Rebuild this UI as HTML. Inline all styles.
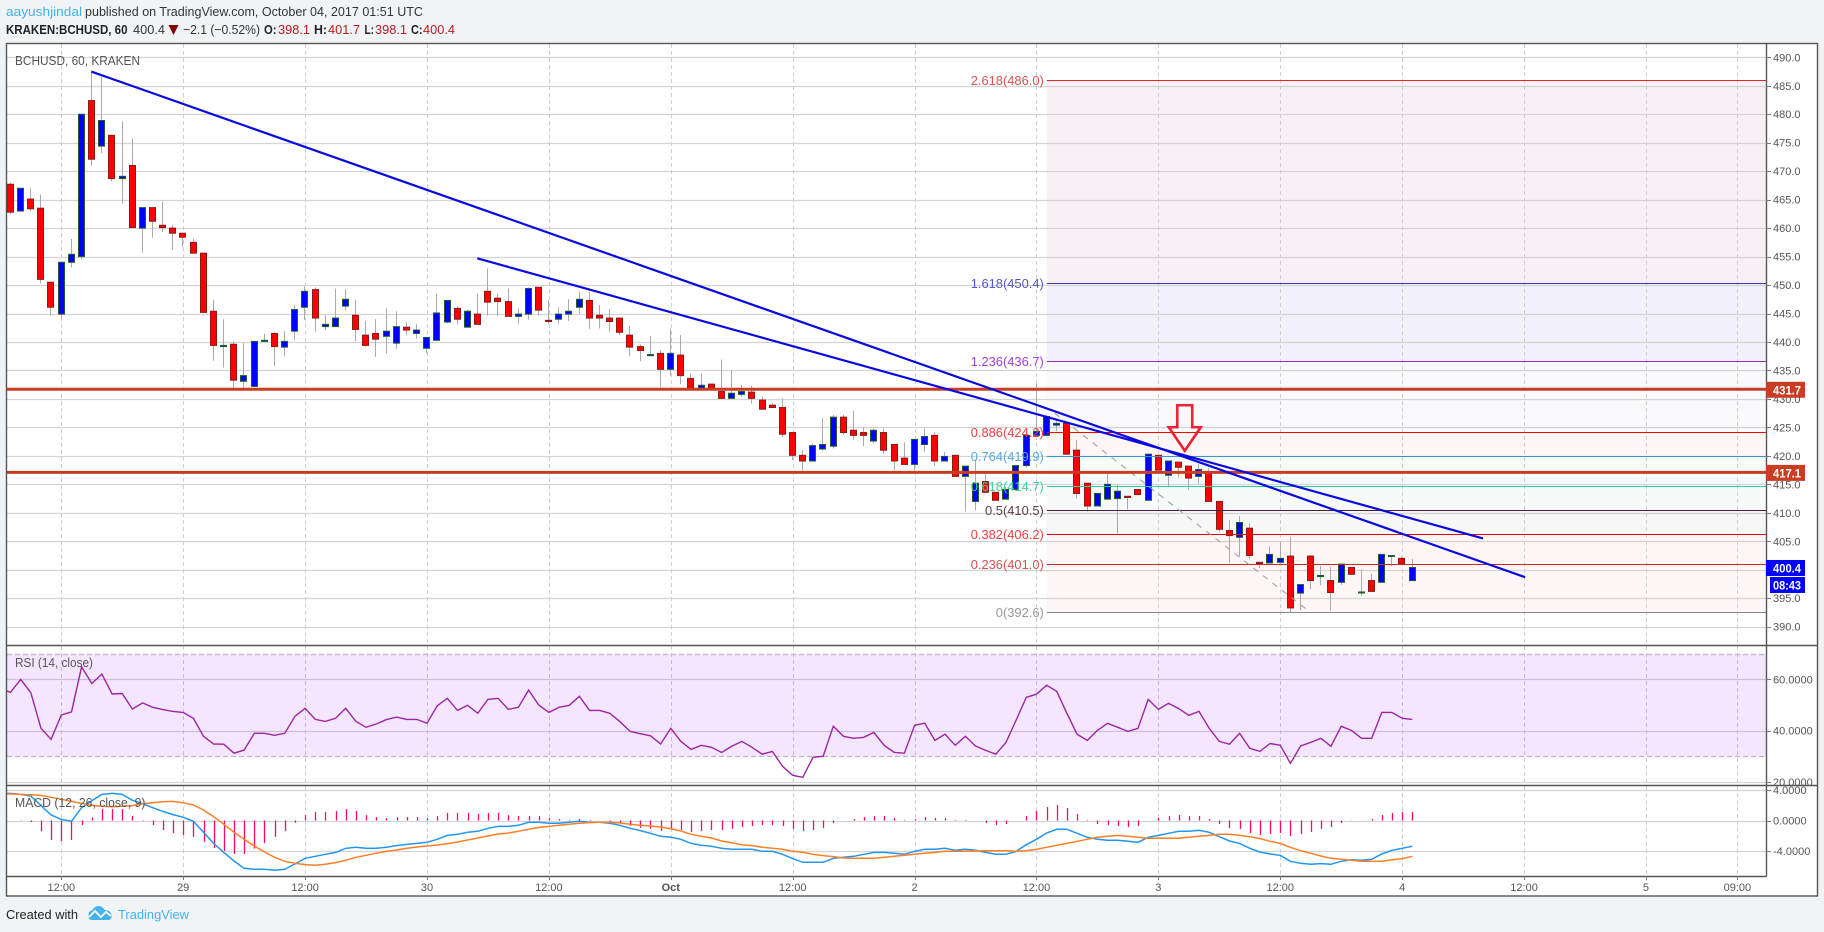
<!DOCTYPE html>
<html lang="en">
<head>
<meta charset="utf-8">
<title>BCHUSD 60 Kraken chart</title>
<style>
html,body{margin:0;padding:0;background:#f1f4f7;width:1824px;height:932px;overflow:hidden}
svg{display:block;font-family:"Liberation Sans",Arial,sans-serif}
</style>
</head>
<body>
<svg id="chart" xmlns="http://www.w3.org/2000/svg" width="1824" height="932" viewBox="0 0 1824 932">
  <defs>
    <clipPath id="mainClip"><rect x="7" y="44" width="1759" height="601"/></clipPath>
    <clipPath id="rsiClip"><rect x="7" y="646" width="1810" height="139"/></clipPath>
    <clipPath id="macdClip"><rect x="7" y="786" width="1759" height="90"/></clipPath>
  </defs>
  <rect x="0" y="0" width="1824" height="932" fill="#f1f4f7"/>

  <g font-size="13">
    <text x="6" y="16" fill="#45b2e8" textLength="76" lengthAdjust="spacingAndGlyphs">aayushjindal</text>
    <text x="85" y="16" fill="#333" textLength="338" lengthAdjust="spacingAndGlyphs">published on TradingView.com, October 04, 2017 01:51 UTC</text>
    <text x="6" y="34" fill="#222" font-weight="bold" textLength="121.5" lengthAdjust="spacingAndGlyphs">KRAKEN:BCHUSD, 60</text>
    <text x="133" y="34" fill="#333" textLength="32" lengthAdjust="spacingAndGlyphs">400.4</text>
    <polygon points="168.5,25 178.5,25 173.5,35" fill="#8b0000"/>
    <text x="183" y="34" fill="#333" textLength="77" lengthAdjust="spacingAndGlyphs">−2.1 (−0.52%)</text>
    <text x="264" y="34" fill="#222" font-weight="bold" textLength="12.5" lengthAdjust="spacingAndGlyphs">O:</text>
    <text x="278" y="34" fill="#b71c1c" textLength="32" lengthAdjust="spacingAndGlyphs">398.1</text>
    <text x="314" y="34" fill="#222" font-weight="bold" textLength="13" lengthAdjust="spacingAndGlyphs">H:</text>
    <text x="328" y="34" fill="#b71c1c" textLength="32" lengthAdjust="spacingAndGlyphs">401.7</text>
    <text x="364.5" y="34" fill="#222" font-weight="bold" textLength="9.5" lengthAdjust="spacingAndGlyphs">L:</text>
    <text x="375" y="34" fill="#b71c1c" textLength="32" lengthAdjust="spacingAndGlyphs">398.1</text>
    <text x="411" y="34" fill="#222" font-weight="bold" textLength="11.5" lengthAdjust="spacingAndGlyphs">C:</text>
    <text x="423" y="34" fill="#b71c1c" textLength="32" lengthAdjust="spacingAndGlyphs">400.4</text>
  </g>

  <rect x="6.5" y="43.5" width="1811" height="852.5" fill="#ffffff"/>

  <g id="fibBands"></g>
  <g id="grid"></g>
  <g id="rsiBand"></g>
  <g id="candles" clip-path="url(#mainClip)"></g>
  <g id="fibLines"></g>
  <g id="drawings" clip-path="url(#mainClip)"></g>
  <g id="rsiSeries" clip-path="url(#rsiClip)"></g>
  <g id="macdSeries" clip-path="url(#macdClip)"></g>

  <text x="15" y="65" font-size="13" fill="#555" textLength="125" lengthAdjust="spacingAndGlyphs">BCHUSD, 60, KRAKEN</text>
  <text x="15" y="667" font-size="13" fill="#555" textLength="78" lengthAdjust="spacingAndGlyphs">RSI (14, close)</text>
  <text x="15" y="807" font-size="13" fill="#555" textLength="130.5" lengthAdjust="spacingAndGlyphs">MACD (12, 26, close, 9)</text>

  <g id="frame" stroke="#555" stroke-width="1.4" fill="none">
    <rect x="6.5" y="43.5" width="1811" height="852.5"/>
    <line x1="1766.5" y1="43.5" x2="1766.5" y2="876.5"/>
    <line x1="6.5" y1="645.5" x2="1817.5" y2="645.5"/>
    <line x1="6.5" y1="785.5" x2="1817.5" y2="785.5"/>
    <line x1="6.5" y1="876.5" x2="1766.5" y2="876.5"/>
  </g>

  <g id="axes" font-size="11" fill="#555"></g>
  <g id="tags" font-size="12" font-weight="bold" fill="#fff"></g>

  <g>
    <text x="6" y="919" font-size="13" fill="#222" textLength="72" lengthAdjust="spacingAndGlyphs">Created with</text>
    <g>
      <path d="M88.5 915q0-4 4-5q2-4 6-4q4 0 6 4q6 0 7 5q1 5-4 5H92q-4 0-3.5-5z" fill="#45b2e8"/>
      <polyline points="89,917 95,911 101,917 106,912 111,916" fill="none" stroke="#ffffff" stroke-width="1.8"/>
    </g>
    <text x="118" y="919" font-size="13" fill="#45b2e8" textLength="71" lengthAdjust="spacingAndGlyphs">TradingView</text>
  </g>
</svg>

<script>
const firstHour = -6;

const opens = [466.5,467.7,463.0,465.1,463.5,450.5,444.9,454.0,455.0,482.4,474.4,476.3,468.7,471.0,460.0,463.6,460.5,460.0,459.1,457.5,
455.6,445.4,439.2,439.6,433.1,432.2,440.1,441.5,439.1,441.9,446.1,449.2,442.7,442.7,446.3,444.7,441.2,441.5,441.0,439.8,
442.6,441.5,438.9,440.3,443.5,445.9,442.6,444.9,448.9,447.7,447.1,444.5,444.9,449.6,443.8,444.0,444.9,446.1,447.3,444.7,
444.2,444.2,441.2,439.2,437.6,438.0,435.2,437.7,433.6,431.9,432.6,431.3,430.1,430.8,431.2,429.8,428.9,428.5,424.1,420.1,
419.1,421.2,421.7,426.8,424.5,424.1,422.6,424.1,422.0,419.6,418.5,422.0,423.6,419.1,420.1,416.4,412.0,415.5,413.6,412.4,
414.1,418.3,423.6,423.6,425.4,425.7,421.0,415.2,411.2,412.4,412.5,412.9,414.1,412.2,420.1,416.6,418.9,418.2,416.4,416.9,
412.0,406.9,405.7,407.3,401.3,401.2,401.3,402.4,395.9,402.4,398.8,398.1,397.8,400.4,396.0,398.1,397.8,402.4,402.0,398.1];

const closes = [467.7,462.8,467.0,463.4,451.0,446.1,454.0,455.4,480.0,472.1,478.9,468.7,469.1,460.1,463.6,461.2,460.1,459.1,458.4,455.6,
445.2,439.4,439.4,433.3,434.1,440.1,440.3,439.2,440.1,445.7,448.9,444.2,443.1,444.2,447.5,442.2,439.4,440.5,441.9,442.7,
442.1,442.1,440.8,445.1,447.3,444.0,445.4,443.1,447.0,447.1,444.5,444.9,449.4,445.6,443.6,444.9,445.4,447.5,444.2,444.2,
443.6,441.7,439.1,438.5,437.8,435.2,438.0,434.1,431.9,432.4,431.9,430.1,431.0,431.3,430.1,428.2,428.5,423.8,420.1,419.1,
421.8,422.0,426.8,424.1,423.6,423.6,424.5,421.0,419.1,418.5,422.9,423.4,419.1,419.9,416.4,418.2,415.2,413.6,412.2,414.1,
418.3,423.6,424.3,426.9,425.7,420.3,413.4,411.2,413.4,415.0,413.8,412.7,413.2,420.3,417.5,419.1,418.0,416.1,417.6,412.0,
407.1,406.0,408.3,402.5,401.1,402.7,402.0,393.3,397.4,398.1,399.0,396.0,401.0,399.2,396.1,396.2,402.7,402.5,401.0,400.4];

const highs = [468.0,468.0,467.0,467.0,465.9,450.5,454.0,458.1,480.0,487.3,486.7,476.3,478.8,475.7,463.6,463.6,464.7,460.5,459.1,458.2,
455.6,447.4,444.0,440.1,439.8,440.2,441.5,441.7,441.9,446.5,449.8,449.6,444.7,449.4,449.3,447.4,443.7,444.0,445.9,445.4,
443.5,443.2,440.9,448.5,447.4,446.3,445.7,448.5,452.9,448.5,449.4,445.9,449.6,449.6,447.4,446.1,447.5,448.9,448.8,446.5,
445.8,444.2,442.8,439.6,441.1,438.5,442.4,441.2,434.5,434.5,432.7,436.9,435.1,432.5,432.3,430.4,429.3,430.1,424.1,421.0,
422.2,426.6,427.2,427.2,427.9,425.0,424.8,424.8,422.0,422.4,422.9,424.8,424.2,420.7,420.1,418.2,419.3,416.9,413.6,414.6,
418.3,423.6,432.7,427.2,426.3,425.7,422.8,415.2,413.4,416.9,414.9,412.9,414.1,420.3,420.1,419.1,418.9,418.2,418.6,417.8,
412.0,408.7,409.4,408.2,401.3,404.1,404.9,405.8,397.4,402.6,400.7,400.5,401.0,400.4,400.1,399.3,402.7,402.5,402.3,401.9];

const lows = [465.0,462.5,462.9,462.9,450.3,444.6,444.0,453.1,454.5,471.0,473.2,468.2,464.3,460.1,455.7,458.3,459.3,456.2,456.7,455.6,
445.2,436.7,435.5,431.9,431.9,432.2,440.1,435.8,437.5,440.4,443.9,441.8,442.1,442.7,445.5,440.2,439.2,437.4,438.0,438.8,
441.2,440.6,438.0,440.3,443.3,443.1,442.6,443.1,444.6,444.6,444.5,443.2,443.9,444.6,443.2,443.2,443.7,445.0,442.3,442.4,
441.8,441.2,437.5,436.6,437.6,432.0,434.1,432.6,431.9,431.9,431.9,430.1,430.1,430.4,429.2,428.2,428.4,423.3,419.3,417.4,
419.1,421.0,421.3,423.7,422.8,421.7,422.2,420.3,417.4,418.5,417.4,420.7,418.2,419.1,416.4,410.2,410.4,413.6,412.2,412.4,
414.1,418.0,423.6,423.4,424.3,420.3,412.5,410.2,411.2,412.4,406.4,410.6,413.2,412.2,417.5,414.5,416.2,414.1,415.1,412.0,
406.7,401.2,402.3,401.9,400.3,401.2,401.3,392.4,392.9,396.6,397.3,392.8,397.4,399.2,395.4,396.2,397.8,400.7,401.0,398.1];

const rsiValues = [56.5,54.9,60.0,54.8,40.9,36.6,46.1,47.3,64.9,58.4,62.1,54.3,54.5,48.4,50.8,49.1,48.2,47.5,47.1,44.8,
37.8,34.8,34.7,31.2,32.4,38.95,38.95,38.2,38.95,45.6,48.7,44.4,43.6,44.8,48.7,43.6,41.3,42.6,44.3,45.3,
44.4,44.4,42.9,49.6,52.6,47.9,49.9,46.75,52.2,52.6,48.3,49.1,55.8,50.0,47.1,49.1,49.9,53.4,47.9,47.9,
46.75,43.5,39.7,38.8,38.0,34.8,40.9,35.8,32.7,34.3,33.5,31.5,33.9,35.8,33.5,30.8,31.9,26.1,22.6,21.8,
29.6,30.0,41.7,37.8,37.0,37.4,39.3,34.3,31.5,31.2,42.1,42.9,36.2,38.6,34.3,37.8,34.0,32.3,30.8,35.4,
44.15,53.0,54.2,57.7,55.3,46.75,38.6,36.2,40.1,42.85,41.3,39.7,40.9,52.2,48.3,50.65,48.6,46.0,47.5,40.9,
35.8,34.7,38.95,33.1,31.9,35.0,34.3,27.25,34.0,35.4,37.0,33.9,41.7,40.1,37.0,37.0,47.1,47.1,44.8,44.4];

const macdValues = [3.56,3.56,3.43,3.21,1.95,0.72,0.15,-0.11,1.68,2.6,3.43,3.56,3.43,2.65,2.21,1.68,1.2,0.77,0.42,-0.11,
-1.55,-3.0,-4.18,-5.31,-6.27,-6.41,-6.41,-6.54,-6.41,-5.71,-4.96,-4.7,-4.44,-4.18,-3.65,-3.52,-3.65,-3.65,-3.52,-3.3,
-3.13,-3.0,-2.86,-2.47,-1.95,-1.81,-1.55,-1.42,-1.03,-0.77,-0.77,-0.63,-0.24,-0.24,-0.37,-0.37,-0.24,-0.11,-0.24,-0.24,
-0.37,-0.63,-1.03,-1.33,-1.68,-2.08,-2.21,-2.47,-3.0,-3.26,-3.39,-3.65,-3.78,-3.78,-3.78,-4.04,-4.04,-4.44,-5.0,-5.49,
-5.49,-5.49,-4.96,-4.83,-4.7,-4.44,-4.18,-4.18,-4.31,-4.44,-4.04,-3.78,-3.78,-3.65,-3.91,-3.78,-3.91,-4.18,-4.44,-4.44,
-4.04,-3.17,-2.47,-1.64,-1.16,-1.16,-1.68,-2.21,-2.47,-2.6,-2.6,-2.73,-2.86,-2.21,-1.95,-1.68,-1.42,-1.42,-1.29,-1.55,
-2.12,-2.69,-3.0,-3.65,-4.13,-4.39,-4.57,-5.36,-5.62,-5.75,-5.66,-5.75,-5.36,-5.14,-5.22,-5.09,-4.39,-3.91,-3.65,-3.39];

const signalValues = [3.48,3.48,3.43,3.39,3.3,3.04,2.78,2.51,2.25,1.99,1.86,1.81,1.86,1.95,2.21,2.34,2.47,2.51,2.34,2.03,
1.38,0.5,-0.5,-1.55,-2.47,-3.34,-4.13,-4.83,-5.36,-5.62,-5.79,-5.88,-5.75,-5.53,-5.22,-4.83,-4.57,-4.31,-4.04,-3.87,
-3.65,-3.48,-3.34,-3.21,-3.04,-2.82,-2.56,-2.3,-2.03,-1.77,-1.64,-1.42,-1.16,-0.9,-0.77,-0.63,-0.5,-0.37,-0.28,-0.24,
-0.24,-0.33,-0.5,-0.63,-0.72,-0.85,-1.07,-1.38,-1.81,-2.08,-2.3,-2.69,-2.91,-3.17,-3.3,-3.52,-3.65,-3.78,-4.04,-4.18,
-4.44,-4.61,-4.74,-4.92,-4.96,-4.96,-4.96,-4.83,-4.7,-4.57,-4.44,-4.31,-4.18,-4.04,-4.04,-4.04,-4.0,-3.96,-3.96,-3.96,
-4.04,-3.96,-3.78,-3.52,-3.26,-3.0,-2.73,-2.47,-2.21,-2.08,-1.95,-2.08,-2.21,-2.34,-2.34,-2.34,-2.34,-2.21,-2.08,-1.95,
-1.81,-1.81,-1.95,-2.12,-2.38,-2.73,-3.0,-3.52,-3.96,-4.31,-4.66,-4.96,-5.09,-5.22,-5.36,-5.36,-5.36,-5.14,-5.0,-4.7];

const histValues = [0,0,0.05,-0.2,-1.4,-2.55,-2.7,-2.55,-0.6,0.4,1.5,1.5,1.5,0.6,0.05,-0.6,-1.25,-1.65,-1.9,-2.15,
-2.8,-3.6,-4.0,-4.4,-4.4,-3.7,-2.95,-2.15,-1.4,-0.3,0.7,1.1,1.1,1.25,1.5,1.25,0.7,0.45,0.3,0.45,
0.45,0.45,0.3,0.6,1.0,1.0,1.0,0.85,1.0,1.0,0.7,0.6,0.6,0.6,0.3,0.2,0.07,0.2,0.07,0,
-0.15,-0.4,-0.7,-0.95,-1.1,-1.38,-1.1,-1.25,-1.5,-1.38,-1.25,-1.25,-1.1,-0.85,-0.72,-0.6,-0.6,-0.72,-1.1,-1.38,
-1.25,-1.0,-0.33,0,0.2,0.46,0.6,0.6,0.33,0.07,0.2,0.46,0.33,0.33,0.07,0.07,0,-0.33,-0.6,-0.46,
0,0.6,1.25,1.77,2.03,1.64,0.85,0.07,-0.46,-0.6,-0.72,-0.85,-0.72,0,0.33,0.6,0.72,0.6,0.6,0.2,
-0.46,-1.0,-1.1,-1.64,-1.9,-1.77,-1.64,-2.03,-1.77,-1.5,-1.1,-0.85,-0.33,0.02,0.02,0.2,0.72,1.0,1.1,1.1];

const priceTicks = [490,485,480,475,470,465,460,455,450,445,440,435,430,425,420,415,410,405,400,395,390];
const rsiTicks = [60,40,20];
const macdTicks = [4,0,-4];
const timeTickHours = [0,12,24,36,48,60,72,84,96,108,120,132,144,156,165];
const timeTickLabels = ['12:00','29','12:00','30','12:00','Oct','12:00','2','12:00','3','12:00','4','12:00','5','09:00'];

const fibRatios = ['2.618','1.618','1.236','0.886','0.764','0.618','0.5','0.382','0.236','0'];
const fibPrices = [486.0,450.4,436.7,424.2,419.9,414.7,410.5,406.2,401.0,392.6];
const fibStartHour = 97;
const levelPrices = [431.7,417.1];
const lastPrice = 400.4;
const countdownLabel = '08:43';
const trendlineLongPrices = [487.5,398.7];
const trendlineLongHours = [2.95,144.1];
const trendlineShortPrices = [454.7,405.5];
const trendlineShortHours = [40.95,139.96];
const fibDiagonalPrices = [427.5,392.6];
const fibDiagonalHours = [97.8,122.9];
const arrowTipHour = 110.6;
const arrowTipPrice = 420.9;

const SVGNS = 'http://www.w3.org/2000/svg';
function xOf(h){ return 61.3 + 10.158 * h; }
function yPrice(p){ return 57.3 + 5.694 * (490 - p); }
function yRsi(v){ return 653.7 + 2.565 * (70 - v); }
function yMacd(v){ return 820.5 - 7.62 * v; }
function crisp(v){ return Math.round(v) + 0.5; }
function mk(parent, tag, attrs, txt){
  const el = document.createElementNS(SVGNS, tag);
  for (const k in attrs) el.setAttribute(k, attrs[k]);
  if (txt !== undefined) el.textContent = txt;
  parent.appendChild(el);
  return el;
}
function linePoints(values, yFn){
  return values.map(function(v, i){ return xOf(firstHour + i).toFixed(1) + ',' + yFn(v).toFixed(1); }).join(' ');
}

function drawGrid(){
  const g = document.getElementById('grid');
  const fibBands = document.getElementById('fibBands');
  const bandColors = ['#f9f0f6','#f2f0fa','#f9f9fe','#fff6f6','#f7fcfd','#f6fbf9','#f7f7f7','#fef5f5','#fdf8f7'];
  const left = xOf(fibStartHour) + 0.2;
  for (let i = 0; i < fibPrices.length - 1; i++) {
    const band = mk(fibBands, 'rect', {x:left, y:yPrice(fibPrices[i]), width:1766 - left, height:yPrice(fibPrices[i+1]) - yPrice(fibPrices[i]), fill:bandColors[i]});
    
    
  }
  priceTicks.forEach(function(p){
    const l = mk(g, 'line', {x1:7, x2:1766, y1:crisp(yPrice(p)), y2:crisp(yPrice(p)), stroke:'#d4d4d4', 'stroke-width':1.2});
    
    
  });
  rsiTicks.forEach(function(v){
    const l = mk(g, 'line', {x1:7, x2:1766, y1:crisp(yRsi(v)), y2:crisp(yRsi(v)), stroke:'#d4d4d4', 'stroke-width':1.2});
    
    
  });
  macdTicks.forEach(function(v){
    const l = mk(g, 'line', {x1:7, x2:1766, y1:crisp(yMacd(v)), y2:crisp(yMacd(v)), stroke:'#d4d4d4', 'stroke-width':1.2});
    
    
  });
  timeTickHours.forEach(function(h){
    const l = mk(g, 'line', {x1:crisp(xOf(h)), x2:crisp(xOf(h)), y1:44, y2:876, stroke:'#cfcfcf', 'stroke-width':1, 'stroke-dasharray':'4 3'});
    
    
  });
  const rb = document.getElementById('rsiBand');
  const fill = mk(rb, 'rect', {x:7, y:yRsi(70), width:1759, height:yRsi(30) - yRsi(70), fill:'rgb(147,14,247)', 'fill-opacity':0.1});
  
  
  [70,30].forEach(function(v){
    const d = mk(rb, 'line', {x1:7, x2:1766, y1:crisp(yRsi(v)), y2:crisp(yRsi(v)), stroke:'#bfb2c8', 'stroke-width':1.2, 'stroke-dasharray':'5 3'});
    
    
  });
}

function drawCandles(){
  const g = document.getElementById('candles');
  opens.forEach(function(o, i){
    const c = closes[i];
    const up = c >= o;
    const cx = Math.round(xOf(firstHour + i) - 0.7) + 0.5;
    const grp = mk(g, 'g', {});
    
    
    const wick = mk(grp, 'line', {x1:cx, x2:cx, y1:yPrice(highs[i]), y2:yPrice(lows[i]), stroke:'#aaaaaa', 'stroke-width':1});
    
    
    const top = yPrice(Math.max(o, c));
    const h = Math.max(1, yPrice(Math.min(o, c)) - top);
    const body = mk(grp, 'rect', {x:cx - 3, y:top, width:6, height:h, fill:up ? '#0000ff' : '#ff0000', stroke:up ? '#1d5e2e' : '#8b1a1a', 'stroke-width':1});
    
    
  });
}

function drawFib(){
  const g = document.getElementById('fibLines');
  const lineColors = ['#e6262b','#3636b0','#9c27d0','#ff0000','#3399cc','#2ecc9a','#4a2040','#e8000a','#c82828','#888888'];
  const textColors = ['#e05050','#5555cc','#a040d8','#f04040','#55aadd','#40d0a0','#604050','#f04040','#d85050','#999999'];
  const left = xOf(fibStartHour) + 0.2;
  fibPrices.forEach(function(p, i){
    const y = crisp(yPrice(p));
    const l = mk(g, 'line', {x1:left, x2:1766, y1:y, y2:y, stroke:lineColors[i], 'stroke-width':1.1});
    
    
    const t = mk(g, 'text', {x:left - 3, y:y + 4.5, 'text-anchor':'end', 'font-size':12.9, fill:textColors[i]}, fibRatios[i] + '(' + p.toFixed(1) + ')');
    
    
  });
}

function drawDrawings(){
  const g = document.getElementById('drawings');
  const diag = mk(g, 'line', {x1:xOf(fibDiagonalHours[0]), y1:yPrice(fibDiagonalPrices[0]), x2:xOf(fibDiagonalHours[1]), y2:yPrice(fibDiagonalPrices[1]), stroke:'#999999', 'stroke-width':1, 'stroke-dasharray':'6 6'});
  
  
  levelPrices.forEach(function(p){
    const l = mk(g, 'line', {x1:7, x2:1766, y1:yPrice(p), y2:yPrice(p), stroke:'#c93e22', 'stroke-width':3});
    
    
  });
  const longLine = mk(g, 'line', {x1:xOf(trendlineLongHours[0]), y1:yPrice(trendlineLongPrices[0]), x2:xOf(trendlineLongHours[1]), y2:yPrice(trendlineLongPrices[1]), stroke:'#0a0ae0', 'stroke-width':2.2});
  
  
  const shortLine = mk(g, 'line', {x1:xOf(trendlineShortHours[0]), y1:yPrice(trendlineShortPrices[0]), x2:xOf(trendlineShortHours[1]), y2:yPrice(trendlineShortPrices[1]), stroke:'#0a0ae0', 'stroke-width':2.2});
  
  
  const ax = xOf(arrowTipHour), ay = yPrice(arrowTipPrice);
  const arrow = mk(g, 'polygon', {transform:'translate(' + ax + ',' + ay + ')', points:'-7.5,-45.5 7.5,-45.5 7.5,-23.5 16,-23.5 0,0 -16,-23.5 -7.5,-23.5', fill:'none', stroke:'#ee2233', 'stroke-width':2.6});
  
  
}

function drawRsi(){
  const g = document.getElementById('rsiSeries');
  const l = mk(g, 'polyline', {points:linePoints(rsiValues, yRsi), fill:'none', stroke:'#9c27a0', 'stroke-width':1.4});
  
  
}

function drawMacd(){
  const g = document.getElementById('macdSeries');
  histValues.forEach(function(v, i){
    if (v === 0) return;
    const x = Math.round(xOf(firstHour + i)) + 0.5;
    const b = mk(g, 'line', {x1:x, x2:x, y1:yMacd(0), y2:yMacd(v), stroke:'#ff0a6c', 'stroke-width':1.3});
    
    
  });
  const m = mk(g, 'polyline', {points:linePoints(macdValues, yMacd), fill:'none', stroke:'#2196f3', 'stroke-width':1.5});
  
  
  const s = mk(g, 'polyline', {points:linePoints(signalValues, yMacd), fill:'none', stroke:'#ff7f27', 'stroke-width':1.5});
  
  
}

function drawAxes(){
  const g = document.getElementById('axes');
  function yTick(y, label, name, clip){
    const t = mk(g, 'line', {x1:1766, x2:1771, y1:crisp(y), y2:crisp(y), stroke:'#777', 'stroke-width':1});
    
    
    const attrs = {x:1773, y:y + 4};
    if (clip) attrs['clip-path'] = 'url(#' + clip + ')';
    const x = mk(g, 'text', attrs, label);
    
    
  }
  priceTicks.forEach(function(p){ yTick(yPrice(p), p.toFixed(1), 'price-axis-label'); });
  rsiTicks.forEach(function(v){ yTick(yRsi(v), v.toFixed(4), 'rsi-axis-label', 'rsiClip'); });
  macdTicks.forEach(function(v){ yTick(yMacd(v), v.toFixed(4), 'macd-axis-label'); });
  timeTickHours.forEach(function(h, i){
    const t = mk(g, 'line', {x1:crisp(xOf(h)), x2:crisp(xOf(h)), y1:876, y2:880, stroke:'#777', 'stroke-width':1});
    
    
    const isMonth = timeTickLabels[i] === 'Oct';
    const x = mk(g, 'text', {x:xOf(h), y:891, 'text-anchor':'middle', 'font-weight':isMonth ? 'bold' : 'normal'}, timeTickLabels[i]);
    
    
  });
}

function drawTags(){
  const g = document.getElementById('tags');
  levelPrices.forEach(function(p){
    const y = yPrice(p);
    const r = mk(g, 'rect', {x:1766, y:y - 7.5, width:39, height:16, fill:'#c93e22'});
    
    
    const t = mk(g, 'text', {x:1773, y:y + 5, 'textLength':28, lengthAdjust:'spacingAndGlyphs'}, p.toFixed(1));
    
    
  });
  const y = yPrice(lastPrice);
  const r = mk(g, 'rect', {x:1766, y:y - 7.5, width:39, height:16, fill:'#0000ff'});
  
  
  const t = mk(g, 'text', {x:1773, y:y + 5, 'textLength':28, lengthAdjust:'spacingAndGlyphs'}, lastPrice.toFixed(1));
  
  
  const r2 = mk(g, 'rect', {x:1770, y:y + 9.5, width:35, height:16, fill:'#0000ff'});
  
  
  const t2 = mk(g, 'text', {x:1773, y:y + 22, 'textLength':28, lengthAdjust:'spacingAndGlyphs'}, countdownLabel);
  
  
}

drawGrid();
drawCandles();
drawFib();
drawDrawings();
drawRsi();
drawMacd();
drawAxes();
drawTags();
</script>
</body>
</html>
